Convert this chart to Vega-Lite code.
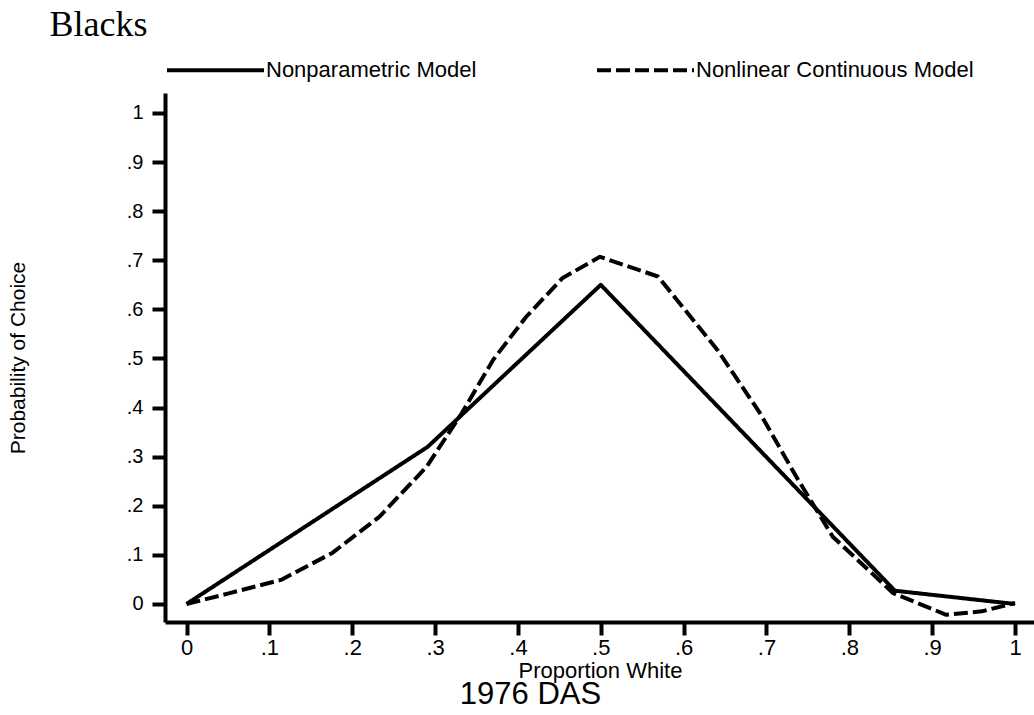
{
  "$schema": "https://vega.github.io/schema/vega-lite/v6.json",
  "autosize": {"type": "none"},
  "width": 869,
  "height": 529,
  "padding": {"left": 165, "top": 93, "right": 0, "bottom": 93},
  "background": "white",
  "config": {
    "view": {"stroke": null},
    "font": "Liberation Sans"
  },
  "data": {
    "values": [
      {"model": "Nonparametric Model", "x": 0, "y": 0},
      {"model": "Nonparametric Model", "x": 0.291, "y": 0.32},
      {"model": "Nonparametric Model", "x": 0.5, "y": 0.65},
      {"model": "Nonparametric Model", "x": 0.855, "y": 0.027},
      {"model": "Nonparametric Model", "x": 1, "y": 0},
      {"model": "Nonlinear Continuous Model", "x": 0, "y": 0},
      {"model": "Nonlinear Continuous Model", "x": 0.052, "y": 0.022},
      {"model": "Nonlinear Continuous Model", "x": 0.114, "y": 0.049},
      {"model": "Nonlinear Continuous Model", "x": 0.176, "y": 0.104},
      {"model": "Nonlinear Continuous Model", "x": 0.233, "y": 0.178},
      {"model": "Nonlinear Continuous Model", "x": 0.29, "y": 0.28},
      {"model": "Nonlinear Continuous Model", "x": 0.332, "y": 0.388},
      {"model": "Nonlinear Continuous Model", "x": 0.37, "y": 0.497},
      {"model": "Nonlinear Continuous Model", "x": 0.41, "y": 0.585},
      {"model": "Nonlinear Continuous Model", "x": 0.454, "y": 0.664},
      {"model": "Nonlinear Continuous Model", "x": 0.499, "y": 0.707},
      {"model": "Nonlinear Continuous Model", "x": 0.569, "y": 0.667},
      {"model": "Nonlinear Continuous Model", "x": 0.641, "y": 0.517},
      {"model": "Nonlinear Continuous Model", "x": 0.692, "y": 0.389},
      {"model": "Nonlinear Continuous Model", "x": 0.736, "y": 0.259},
      {"model": "Nonlinear Continuous Model", "x": 0.78, "y": 0.137},
      {"model": "Nonlinear Continuous Model", "x": 0.853, "y": 0.022},
      {"model": "Nonlinear Continuous Model", "x": 0.917, "y": -0.022},
      {"model": "Nonlinear Continuous Model", "x": 0.96, "y": -0.015},
      {"model": "Nonlinear Continuous Model", "x": 1, "y": 0.002}
    ]
  },
  "layer": [
    {
      "transform": [{"filter": "datum.model == 'Nonparametric Model'"}],
      "mark": {"type": "line", "strokeWidth": 4, "color": "black", "strokeCap": "butt", "strokeJoin": "round"},
      "encoding": {
        "x": {
          "field": "x",
          "type": "quantitative",
          "scale": {"domain": [-0.026, 1.0229], "nice": false, "zero": false},
          "axis": {
            "orient": "bottom",
            "values": [0, 0.1, 0.2, 0.3, 0.4, 0.5, 0.6, 0.7, 0.8, 0.9, 1],
            "labelExpr": "datum.value == 0 ? '0' : datum.value == 1 ? '1' : replace(format(datum.value, '.1f'), '0.', '.')",
            "grid": false,
            "domainColor": "black",
            "domainWidth": 4,
            "tickColor": "black",
            "tickWidth": 4,
            "tickSize": 13,
            "labelFont": "Liberation Sans",
            "labelFontSize": 22,
            "labelColor": "black",
            "labelPadding": 2,
            "labelFlush": false,
            "labelOverlap": false,
            "title": "Proportion White",
            "titleFont": "Liberation Sans",
            "titleFontSize": 22,
            "titleFontWeight": "normal",
            "titleColor": "black",
            "titleBaseline": "alphabetic",
            "titleX": 435,
            "titleY": 55
          }
        },
        "y": {
          "field": "y",
          "type": "quantitative",
          "scale": {"domain": [-0.0367, 1.0407], "nice": false, "zero": false},
          "axis": {
            "orient": "left",
            "values": [0, 0.1, 0.2, 0.3, 0.4, 0.5, 0.6, 0.7, 0.8, 0.9, 1],
            "labelExpr": "datum.value == 0 ? '0' : datum.value == 1 ? '1' : replace(format(datum.value, '.1f'), '0.', '.')",
            "grid": false,
            "domainColor": "black",
            "domainWidth": 4,
            "tickColor": "black",
            "tickWidth": 4,
            "tickSize": 13,
            "labelFont": "Liberation Sans",
            "labelFontSize": 20,
            "labelColor": "black",
            "labelPadding": 9,
            "labelFlush": false,
            "labelOverlap": false,
            "title": "Probability of Choice",
            "titleFont": "Liberation Sans",
            "titleFontSize": 21,
            "titleFontWeight": "normal",
            "titleColor": "black",
            "titleAngle": -90,
            "titleBaseline": "middle",
            "titleAlign": "center",
            "titleX": -147,
            "titleY": 264.5
          }
        },
        "strokeDash": {
          "field": "model",
          "type": "nominal",
          "scale": {
            "domain": ["Nonparametric Model", "Nonlinear Continuous Model"],
            "range": [[1, 0], [14, 5]]
          },
          "legend": {
            "title": null,
            "orient": "none",
            "direction": "horizontal",
            "legendX": 0,
            "legendY": -73.5,
            "symbolType": "stroke",
            "symbolSize": 9409,
            "symbolStrokeWidth": 4,
            "symbolStrokeColor": "black",
            "labelFont": "Liberation Sans",
            "labelFontSize": 22,
            "labelColor": "black",
            "labelOffset": 0,
            "labelLimit": 400,
            "columnPadding": 112
          }
        }
      }
    },
    {
      "transform": [{"filter": "datum.model == 'Nonlinear Continuous Model'"}],
      "mark": {"type": "line", "strokeWidth": 4, "color": "black", "strokeCap": "butt", "strokeJoin": "round"},
      "encoding": {
        "x": {
          "field": "x",
          "type": "quantitative",
          "axis": {
            "orient": "bottom",
            "domain": false,
            "ticks": false,
            "labels": false,
            "grid": false,
            "title": "1976 DAS",
            "titleFont": "Liberation Sans",
            "titleFontSize": 31,
            "titleFontWeight": "normal",
            "titleColor": "black",
            "titleBaseline": "alphabetic",
            "titleAlign": "center",
            "titleX": 365,
            "titleY": 81
          }
        },
        "y": {
          "field": "y",
          "type": "quantitative",
          "axis": {
            "orient": "left",
            "domain": false,
            "ticks": false,
            "labels": false,
            "grid": false,
            "title": "Blacks",
            "titleFont": "Liberation Serif",
            "titleFontSize": 36,
            "titleFontWeight": "normal",
            "titleColor": "black",
            "titleAngle": 0,
            "titleAlign": "left",
            "titleBaseline": "alphabetic",
            "titleX": -116,
            "titleY": -58
          }
        },
        "strokeDash": {"field": "model", "type": "nominal"}
      }
    }
  ],
  "resolve": {"axis": {"x": "independent", "y": "independent"}}
}
